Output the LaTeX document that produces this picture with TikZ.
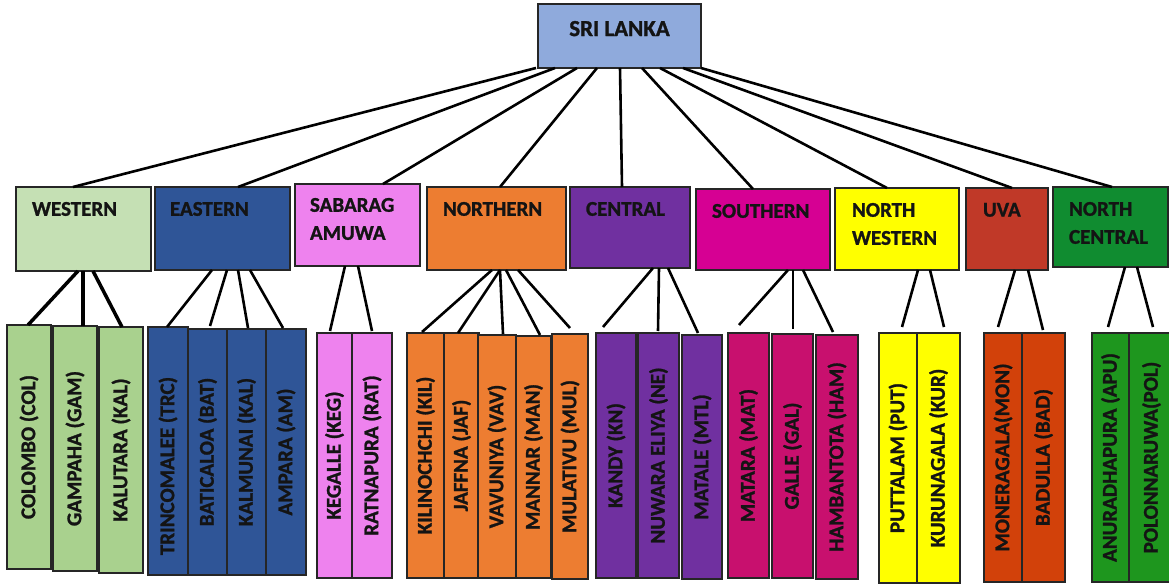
\documentclass[tikz,border=0pt]{standalone}
\usepackage{fontspec}
\setmainfont{Carlito}[BoldFeatures={FakeBold=1.2}]
\usepackage{graphicx}
\definecolor{rootc}{HTML}{8FAADC}
\definecolor{westp}{HTML}{C5E0B4}
\definecolor{westd}{HTML}{A9D18E}
\definecolor{eastc}{HTML}{2F5597}
\definecolor{sabc}{HTML}{EE82EE}
\definecolor{northc}{HTML}{ED7D31}
\definecolor{centc}{HTML}{7030A0}
\definecolor{southp}{HTML}{D60093}
\definecolor{southd}{HTML}{C8106E}
\definecolor{nwc}{HTML}{FFFF00}
\definecolor{uvap}{HTML}{C03928}
\definecolor{uvad}{HTML}{D2410A}
\definecolor{ncp}{HTML}{108C30}
\definecolor{ncd}{HTML}{1E961E}
\definecolor{bordercol}{HTML}{262626}
\definecolor{txtcol}{HTML}{141414}
\newcommand{\rootlink}[3]{\draw[conn] ([xshift=#1pt]root.south west) -- ([xshift=#3pt]#2.north west);}
\newcommand{\provlink}[5]{\draw[conn] ([xshift=#2pt]#1.south west) -- ([xshift=#4pt,yshift=#5pt]#3.north west);}
\newcommand{\distbox}[8]{\node[box, dtxt, fill=#6, minimum width=#4pt, minimum height=#5pt] (#1) at (#2,#3) {\rotatebox{90}{#8#7}};}
\begin{document}
\begin{tikzpicture}[x=1pt,y=-1pt,
  box/.style={draw=bordercol, line width=1.1pt, inner sep=0pt, outer sep=0pt, anchor=north west},
  txt/.style={font=\fontsize{21}{28}\selectfont\bfseries, text=txtcol, inner sep=0pt, outer sep=0pt},
  dtxt/.style={font=\fontsize{21}{28}\selectfont\bfseries, text=txtcol},
  conn/.style={line width=2.6pt, black},
]
\useasboundingbox (0,0) rectangle (1169,588);
% root
\node[box, fill=rootc, minimum width=163pt, minimum height=64pt] (root) at (538,4) {};
\node[txt, font=\fontsize{23}{28}\selectfont\bfseries, anchor=north] (rootT) at ([yshift=-17pt]root.north) {SRI LANKA};
% provinces
\node[box, fill=westp, minimum width=135pt, minimum height=84pt] (w) at (16,187) {};
\node[box, fill=eastc, minimum width=135pt, minimum height=83pt] (e) at (155,187) {};
\node[box, fill=sabc, minimum width=125pt, minimum height=82pt] (s) at (295,184) {};
\node[box, fill=northc, minimum width=139pt, minimum height=83pt] (n) at (427,187) {};
\node[box, fill=centc, minimum width=120pt, minimum height=81pt] (c) at (570,187) {};
\node[box, fill=southp, minimum width=134pt, minimum height=81pt] (so) at (696,189) {};
\node[box, fill=nwc, minimum width=124pt, minimum height=82pt] (nw) at (835,188) {};
\node[box, fill=uvap, minimum width=82pt, minimum height=82pt] (u) at (966,188) {};
\node[box, fill=ncp, minimum width=115pt, minimum height=80pt] (nc) at (1053,187) {};
\node[txt, anchor=north west] (wT) at ([xshift=16pt,yshift=-15pt]w.north west) {WESTERN};
\node[txt, anchor=north west] (eT) at ([xshift=15pt,yshift=-15pt]e.north west) {EASTERN};
\node[txt, anchor=north west, align=left] (sT) at ([xshift=15pt,yshift=-14pt]s.north west) {SABARAG\\AMUWA};
\node[txt, anchor=north west] (nT) at ([xshift=16pt,yshift=-15pt]n.north west) {NORTHERN};
\node[txt, anchor=north west] (cT) at ([xshift=16pt,yshift=-15pt]c.north west) {CENTRAL};
\node[txt, anchor=north west] (soT) at ([xshift=16pt,yshift=-15pt]so.north west) {SOUTHERN};
\node[txt, anchor=north west, align=left] (nwT) at ([xshift=17pt,yshift=-15pt]nw.north west) {NORTH\\WESTERN};
\node[txt, anchor=north west] (uT) at ([xshift=17pt,yshift=-15pt]u.north west) {UVA};
\node[txt, anchor=north west, align=left] (ncT) at ([xshift=16pt,yshift=-15pt]nc.north west) {NORTH\\CENTRAL};
% districts
\distbox{col}{7}{325}{44}{244}{westd}{COLOMBO (COL)}{}
\distbox{gam}{53}{326}{44}{245}{westd}{GAMPAHA (GAM)}{}
\distbox{kal}{99}{327}{44}{246}{westd}{KALUTARA (KAL)}{}
\distbox{trc}{148}{327}{40}{248}{eastc}{TRINCOMALEE (TRC)}{\hspace*{-30pt}}
\distbox{bat}{188}{329}{39}{246}{eastc}{BATICALOA (BAT)}{}
\distbox{kmn}{227}{329}{39}{246}{eastc}{KALMUNAI (KAL)}{}
\distbox{amp}{266}{329}{40}{246}{eastc}{AMPARA (AM)}{}
\distbox{keg}{317}{333}{35}{245}{sabc}{KEGALLE (KEG)}{}
\distbox{rat}{352}{333}{40}{245}{sabc}{RATNAPURA (RAT)}{}
\distbox{kil}{407}{333}{37}{245}{northc}{KILINOCHCHI (KIL)}{}
\distbox{jaf}{444}{333}{35}{245}{northc}{JAFFNA (JAF)}{}
\distbox{vav}{478}{335}{38}{243}{northc}{VAVUNIYA (VAV)}{}
\distbox{man}{516}{336}{35}{242}{northc}{MANNAR (MAN)}{}
\distbox{mul}{552}{334}{36}{245}{northc}{MULATIVU (MUL)}{}
\distbox{kan}{596}{333}{40}{245}{centc}{KANDY (KN)}{}
\distbox{nue}{638}{333}{41}{245}{centc}{NUWARA ELIYA (NE)}{}
\distbox{mtl}{682}{335}{40}{244}{centc}{MATALE (MTL)}{}
\distbox{mat}{728}{333}{41}{245}{southd}{MATARA (MAT)}{}
\distbox{gal}{772}{334}{41}{244}{southd}{GALLE (GAL)}{}
\distbox{ham}{816}{335}{42}{244}{southd}{HAMBANTOTA (HAM)}{}
\distbox{put}{879}{333}{38}{250}{nwc}{PUTTALAM (PUT)}{}
\distbox{kur}{917}{333}{43}{250}{nwc}{KURUNAGALA (KUR)}{}
\distbox{mon}{984}{333}{38}{249}{uvad}{MONERAGALA(MON)}{}
\distbox{bad}{1022}{333}{43}{249}{uvad}{BADULLA (BAD)}{}
\distbox{apu}{1092}{333}{37}{249}{ncd}{ANURADHAPURA (APU)}{}
\distbox{pol}{1129}{333}{45}{249}{ncd}{POLONNARUWA(POL)}{}
% root connectors
\rootlink{-2}{w}{57}
\rootlink{17}{e}{83}
\rootlink{39}{s}{88}
\rootlink{59}{n}{73}
\rootlink{82}{c}{52}
\rootlink{104}{so}{57}
\rootlink{122}{nw}{52}
\rootlink{145}{u}{46}
\rootlink{163}{nc}{59}
% province connectors
\begin{scope}[conn/.style={line width=3.5pt, black}]
\provlink{w}{62}{col}{21}{0}
\provlink{w}{67}{gam}{30}{0}
\provlink{w}{77}{kal}{23}{0}
\end{scope}
\provlink{e}{57}{trc}{19}{0}
\provlink{e}{72}{bat}{22}{3}
\provlink{e}{83}{kmn}{21}{1}
\provlink{e}{95}{amp}{17}{1}
\provlink{s}{50}{keg}{13}{2}
\provlink{s}{63}{rat}{20}{2}
\provlink{n}{65}{kil}{15}{1}
\provlink{n}{73}{jaf}{14}{0}
\provlink{n}{73}{vav}{25}{1}
\provlink{n}{79}{man}{24}{1}
\provlink{n}{91}{mul}{18}{6}
\provlink{c}{83}{kan}{7}{6}
\provlink{c}{89}{nue}{20}{2}
\provlink{c}{98}{mtl}{16}{2}
\provlink{so}{92}{mat}{11}{8}
\provlink{so}{97}{gal}{21}{5}
\provlink{so}{107}{ham}{17}{3}
\provlink{nw}{83}{put}{23}{6}
\provlink{nw}{95}{kur}{27}{6}
\provlink{u}{49}{mon}{14}{6}
\provlink{u}{62}{bad}{21}{3}
\provlink{nc}{72}{apu}{16}{6}
\provlink{nc}{84}{pol}{24}{6}
\end{tikzpicture}
\end{document}
